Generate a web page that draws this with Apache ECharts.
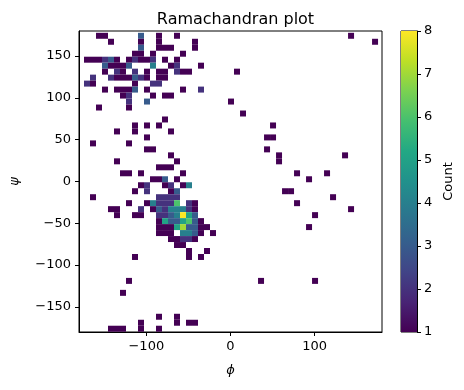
<!DOCTYPE html>
<html>
<head>
<meta charset="utf-8">
<script src="https://cdn.jsdelivr.net/npm/echarts@6/dist/echarts.min.js"></script>
<style>html,body{margin:0;padding:0;background:#fff;}#c{width:464px;height:390px;}</style>
</head>
<body>
<div id="c"></div>
<script>
// 2D histogram bins (phi bin index, psi bin index from top, count)
const PHI_BIN_START = -174.06; // left edge of first phi bin (deg)
const PHI_BIN_STEP = 7.13;
const PSI_BIN_TOP = 177.85;    // top edge of first psi bin (deg)
const PSI_BIN_STEP = 7.15;

const binCounts = [
  [2,0,1],[3,0,1],[9,0,3],[12,0,1],[15,0,1],[44,0,1],
  [4,1,1],[9,1,1],[12,1,1],[18,1,1],[48,1,1],
  [9,2,3],[12,2,1],[13,2,1],[14,2,1],[18,2,1],
  [8,3,1],[9,3,1],[11,3,1],[16,3,1],
  [0,4,1],[1,4,1],[2,4,1],[3,4,2],[4,4,3],[5,4,1],[7,4,1],[8,4,2],[9,4,1],[10,4,1],[11,4,2],[13,4,1],[15,4,1],
  [3,5,3],[4,5,1],[5,5,1],[6,5,1],[7,5,3],[11,5,4],[14,5,1],[15,5,2],[19,5,1],
  [3,6,1],[5,6,2],[6,6,1],[8,6,2],[10,6,1],[12,6,1],[13,6,1],[15,6,2],[16,6,1],[17,6,1],[25,6,1],
  [1,7,2],[4,7,2],[5,7,1],[6,7,1],[7,7,1],[8,7,3],[9,7,2],[10,7,1],[12,7,1],[13,7,1],
  [0,8,2],[1,8,1],[8,8,1],[11,8,2],[12,8,2],
  [3,9,1],[5,9,1],[6,9,1],[7,9,1],[8,9,3],[10,9,1],[16,9,1],[19,9,2],
  [6,10,1],[7,10,2],[11,10,1],[13,10,1],[14,10,1],
  [7,11,2],[10,11,3],[24,11,1],
  [2,12,1],[7,12,1],
  [26,13,1],
  [13,14,1],
  [8,15,1],[10,15,1],[12,15,1],[31,15,1],
  [5,16,1],[8,16,1],[14,16,1],
  [10,17,1],[30,17,1],[31,17,1],
  [1,18,1],[7,18,1],
  [10,19,1],[11,19,1],[30,19,1],
  [14,20,1],[32,20,1],[43,20,1],
  [5,21,1],[15,21,1],[32,21,1],
  [12,22,1],[13,22,1],[14,22,1],
  [6,23,1],[7,23,1],[9,23,1],[16,23,1],[35,23,1],[40,23,1],
  [11,24,1],[12,24,1],[13,24,3],[15,24,1],[37,24,1],
  [9,25,1],[10,25,2],[13,25,1],[14,25,2],[16,25,1],[17,25,4],
  [8,26,1],[10,26,2],[14,26,1],[15,26,3],[33,26,1],[34,26,1],
  [1,27,1],[12,27,2],[13,27,2],[14,27,2],[15,27,2],[41,27,1],
  [7,28,1],[10,28,1],[11,28,4],[12,28,2],[13,28,2],[14,28,2],[15,28,6],[17,28,2],[18,28,1],[35,28,1],
  [4,29,1],[5,29,1],[9,29,2],[11,29,1],[12,29,3],[13,29,2],[14,29,4],[15,29,4],[16,29,4],[17,29,2],[18,29,1],[44,29,1],
  [5,30,1],[8,30,1],[9,30,1],[12,30,2],[13,30,2],[14,30,3],[15,30,4],[16,30,8],[17,30,5],[18,30,3],[38,30,1],
  [12,31,1],[13,31,5],[14,31,3],[15,31,3],[16,31,5],[17,31,6],[18,31,3],[19,31,1],
  [12,32,1],[13,32,1],[14,32,1],[15,32,5],[16,32,7],[17,32,3],[18,32,3],[19,32,1],[20,32,1],[37,32,1],
  [12,33,1],[13,33,1],[14,33,1],[16,33,4],[17,33,4],[18,33,3],[19,33,1],[21,33,1],
  [14,34,1],[15,34,1],[16,34,2],[17,34,2],[18,34,1],
  [15,35,1],[16,35,1],
  [17,36,1],[20,36,1],
  [8,37,1],[17,37,1],[19,37,1],
  [7,41,1],[29,41,1],[38,41,1],
  [6,43,1],
  [12,47,1],[15,47,1],
  [9,48,1],[15,48,1],[17,48,1],[18,48,1],
  [4,49,1],[5,49,1],[6,49,1],[9,49,1],[12,49,1]
];

const xTicks = [-100, 0, 100];
const yTicks = [-150, -100, -50, 0, 50, 100, 150];
const countMin = 1, countMax = 8;

const viridis = ['#440154','#482475','#414487','#355f8d','#2a788e','#21918c','#22a884','#44bf70','#7ad151','#bddf26','#fde725'];

const FONT = 'DejaVu Sans';
const fmt = v => String(v).replace('-', '\u2212');

const cellData = binCounts.map(([i, j, c]) => [
  PHI_BIN_START + (i + 0.5) * PHI_BIN_STEP,
  PSI_BIN_TOP - (j + 0.5) * PSI_BIN_STEP,
  c
]);

const chart = echarts.init(document.getElementById('c'), null, {renderer: 'canvas'});

const axisCommon = {
  axisLine: {show: true, onZero: false, lineStyle: {color: '#000', width: 1}},
  axisTick: {show: true, inside: false, length: 4, lineStyle: {color: '#000', width: 1}},
  splitLine: {show: false},
  axisLabel: {color: '#000', fontFamily: FONT, fontSize: 13, formatter: fmt}
};

chart.setOption({
  animation: false,
  backgroundColor: '#fff',
  title: {
    text: 'Ramachandran plot',
    left: 230.5, top: 7, textAlign: 'center',
    textStyle: {fontFamily: FONT, fontSize: 16, fontWeight: 'normal', color: '#000'}
  },
  grid: [
    {left: 79, top: 31, width: 303, height: 301, show: true, borderColor: '#000', borderWidth: 1, backgroundColor: 'transparent', outerBoundsMode: 'none'},
    {left: 401, top: 31, width: 16, height: 301, show: true, borderColor: '#000', borderWidth: 1, backgroundColor: 'transparent', outerBoundsMode: 'none'}
  ],
  xAxis: [
    Object.assign({}, axisCommon, {
      type: 'value', gridIndex: 0, min: -180, max: 180,
      axisTick: Object.assign({}, axisCommon.axisTick, {customValues: xTicks}),
      axisLabel: Object.assign({}, axisCommon.axisLabel, {customValues: xTicks, margin: 8}),
      name: '\u03D5', nameLocation: 'middle', nameGap: 32,
      nameTextStyle: {fontFamily: FONT, fontSize: 13, fontStyle: 'italic', color: '#000'}
    }),
    {type: 'value', gridIndex: 1, min: 0, max: 1, show: false}
  ],
  yAxis: [
    Object.assign({}, axisCommon, {
      type: 'value', gridIndex: 0, min: -180, max: 180,
      axisTick: Object.assign({}, axisCommon.axisTick, {customValues: yTicks}),
      axisLabel: Object.assign({}, axisCommon.axisLabel, {customValues: yTicks, margin: 8}),
      name: '\u03C8', nameLocation: 'middle', nameGap: 58, nameRotate: 90,
      nameTextStyle: {fontFamily: FONT, fontSize: 13, fontStyle: 'italic', color: '#000'}
    }),
    Object.assign({}, axisCommon, {
      type: 'value', gridIndex: 1, min: countMin, max: countMax, interval: 1, position: 'right',
      axisLabel: Object.assign({}, axisCommon.axisLabel, {margin: 7}),
      name: 'Count', nameLocation: 'middle', nameGap: 25, nameRotate: 90,
      nameTextStyle: {fontFamily: FONT, fontSize: 13, color: '#000'}
    })
  ],
  visualMap: {
    type: 'continuous', show: false, min: countMin, max: countMax,
    dimension: 2, seriesIndex: 0, inRange: {color: viridis}
  },
  series: [
    {
      type: 'custom', xAxisIndex: 0, yAxisIndex: 0,
      data: cellData,
      clip: true,
      renderItem: function (params, api) {
        const cx = api.value(0), cy = api.value(1);
        const p0 = api.coord([cx - PHI_BIN_STEP / 2, cy + PSI_BIN_STEP / 2]);
        const p1 = api.coord([cx + PHI_BIN_STEP / 2, cy - PSI_BIN_STEP / 2]);
        return {
          type: 'rect',
          shape: {x: p0[0], y: p0[1], width: p1[0] - p0[0], height: p1[1] - p0[1]},
          style: {fill: api.visual('color'), stroke: null}
        };
      }
    },
    {
      type: 'custom', xAxisIndex: 1, yAxisIndex: 1,
      data: [[0, countMin, countMax]],
      renderItem: function (params, api) {
        const p0 = api.coord([0, countMax]);
        const p1 = api.coord([1, countMin]);
        const stops = viridis.map((c, k) => ({offset: 1 - k / (viridis.length - 1), color: c})).reverse();
        return {
          type: 'rect',
          shape: {x: p0[0], y: p0[1], width: p1[0] - p0[0], height: p1[1] - p0[1]},
          style: {fill: new echarts.graphic.LinearGradient(0, 0, 0, 1, stops)}
        };
      }
    }
  ]
});
</script>
</body>
</html>
